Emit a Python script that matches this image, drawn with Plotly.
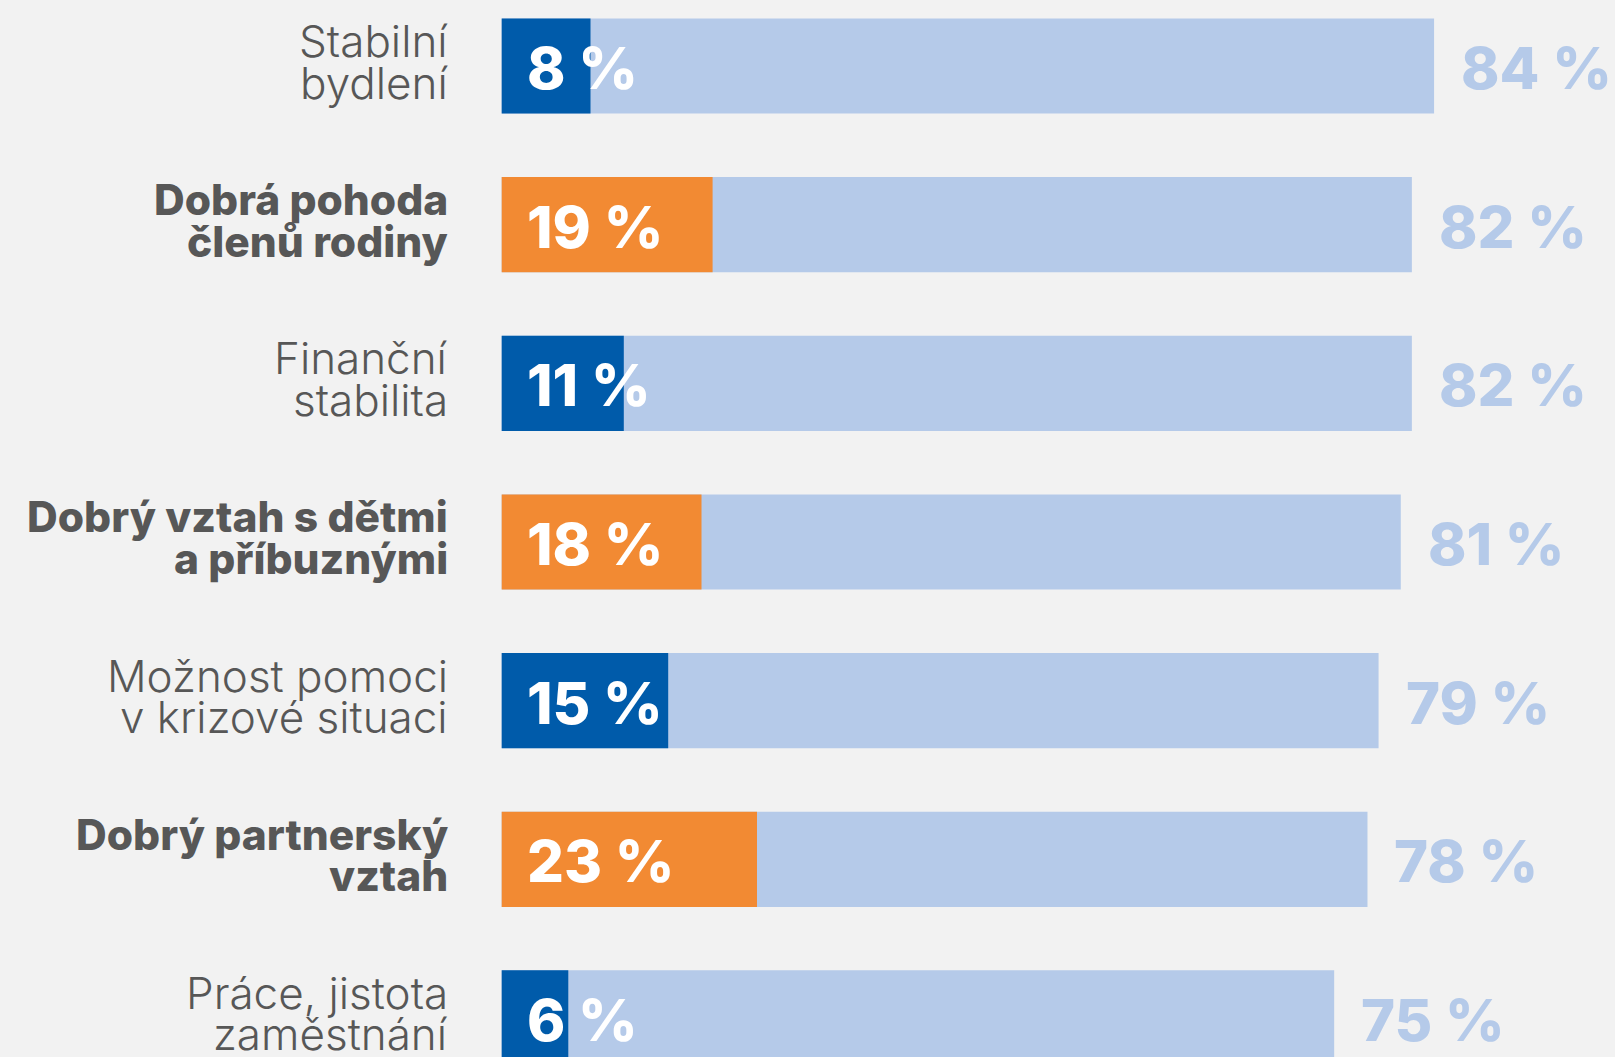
import plotly.graph_objects as go

# ---- data ----
categories = [
    "Stabilní<br>bydlení",
    "Dobrá pohoda<br>členů rodiny",
    "Finanční<br>stabilita",
    "Dobrý vztah s dětmi<br>a příbuznými",
    "Možnost pomoci<br>v krizové situaci",
    "Dobrý partnerský<br>vztah",
    "Práce, jistota<br>zaměstnání",
]
highlight_values = [8, 19, 11, 18, 15, 23, 6]
total_values = [84, 82, 82, 81, 79, 78, 75]
is_bold = [False, True, False, True, False, True, False]

# ---- styles ----
DARK_BLUE = "#005BAA"
ORANGE = "#F28A33"
LIGHT_BLUE = "#B5CAE9"
TEXT_GRAY = "#575757"
BG = "#F2F2F2"
FONT = "Inter"

pos = list(range(len(categories)))
dark_colors = [ORANGE if b else DARK_BLUE for b in is_bold]

fig = go.Figure()
fig.add_trace(go.Bar(
    y=pos, x=total_values, orientation="h", width=0.6,
    marker=dict(color=LIGHT_BLUE, line=dict(width=0)),
    hoverinfo="skip", showlegend=False,
))
fig.add_trace(go.Bar(
    y=pos, x=highlight_values, orientation="h", width=0.6,
    marker=dict(color=dark_colors, line=dict(width=0)),
    hoverinfo="skip", showlegend=False,
))

annotations = []
for i, (cat, hv, tv, b) in enumerate(zip(categories, highlight_values, total_values, is_bold)):
    lines = cat.split("<br>")
    shifts = [25, -16.5] if len(lines) == 2 else [0]
    for line, ys in zip(lines, shifts):
        annotations.append(dict(
            x=-4.7, y=i, xref="x", yref="y", text=line, showarrow=False,
            xanchor="right", yanchor="middle", yshift=ys,
            font=dict(family=FONT, size=42.5 if b else 44, color=TEXT_GRAY,
                      weight=800 if b else 300),
        ))
    annotations.append(dict(
        x=0, y=i, xref="x", yref="y", text=f"{hv} %", showarrow=False,
        xanchor="left", yanchor="middle", xshift=23, yshift=-2,
        font=dict(family=FONT, size=58, color="white", weight=800),
    ))
    annotations.append(dict(
        x=tv, y=i, xref="x", yref="y", text=f"{tv} %", showarrow=False,
        xanchor="left", yanchor="middle", xshift=25, yshift=-2,
        font=dict(family=FONT, size=58, color=LIGHT_BLUE, weight=800),
    ))

fig.update_layout(
    width=1615, height=1057, autosize=False,
    margin=dict(l=0, r=0, t=0, b=0, pad=0),
    paper_bgcolor=BG, plot_bgcolor=BG,
    barmode="overlay",
    xaxis=dict(range=[-45.2, 100.3], visible=False, fixedrange=True),
    yaxis=dict(range=[6.246, -0.416], visible=False, fixedrange=True),
    annotations=annotations,
)

fig.write_html("out.html", config={"displayModeBar": False},
               post_script="document.body.style.margin='0';")
